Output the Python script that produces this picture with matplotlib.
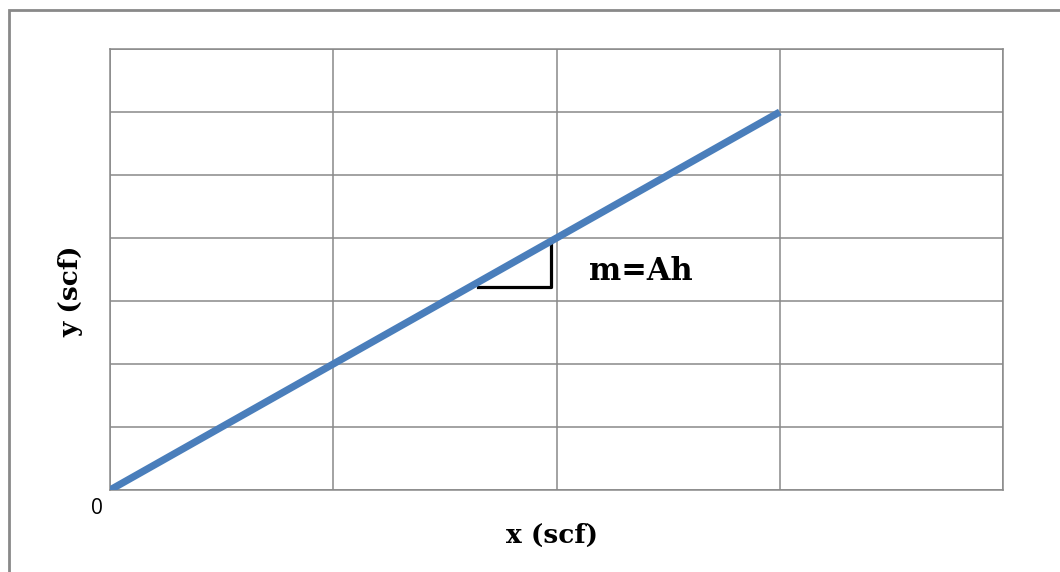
import matplotlib.pyplot as plt
from matplotlib.patches import Rectangle

# line y = m*x through the origin
x = [0, 3]
y = [0, 6]

# slope triangle marker near x=2
tri_x = [1.65, 1.975, 1.975]
tri_y = [3.22, 3.22, 3.95]

W, H = 1060, 572
fig = plt.figure(figsize=(W / 100, H / 100), dpi=100)

# outer chart frame (clipped at right/bottom like the source)
fig.patches.append(Rectangle((9 / W, -0.1), 1.2, 1 - 10 / H + 0.1,
                             transform=fig.transFigure, fill=False,
                             edgecolor='#898989', linewidth=2))

ax = fig.add_axes([110 / W, 82 / H, 893 / W, 441 / H])
ax.plot(x, y, color='#4a7ebb', linewidth=5.2, solid_capstyle='butt', zorder=3)
ax.plot(tri_x, tri_y, color='black', linewidth=2.3, zorder=2)

ax.set_xlim(0, 4)
ax.set_ylim(0, 7)
ax.set_xticks(range(0, 5))
ax.set_yticks(range(0, 8))
ax.grid(True, color='#898989', linewidth=1.1)
ax.tick_params(length=0, labelbottom=False, labelleft=False)
for s in ax.spines.values():
    s.set_color('#898989')
    s.set_linewidth(1.1)

bold = dict(fontweight='bold', family='DejaVu Serif', ha='center', va='center')
fig.text(97 / W, 1 - 508 / H, '0', fontsize=15, ha='center', va='center',
         family='Open Sans')
fig.text(641 / W, 1 - 272 / H, 'm=Ah', fontsize=22, **bold)
fig.text(552 / W, 1 - 535 / H, 'x (scf)', fontsize=19, **bold)
fig.text(71 / W, 1 - 291 / H, 'y (scf)', fontsize=19, rotation=90, **bold)

fig.savefig('out.png', dpi=100)
